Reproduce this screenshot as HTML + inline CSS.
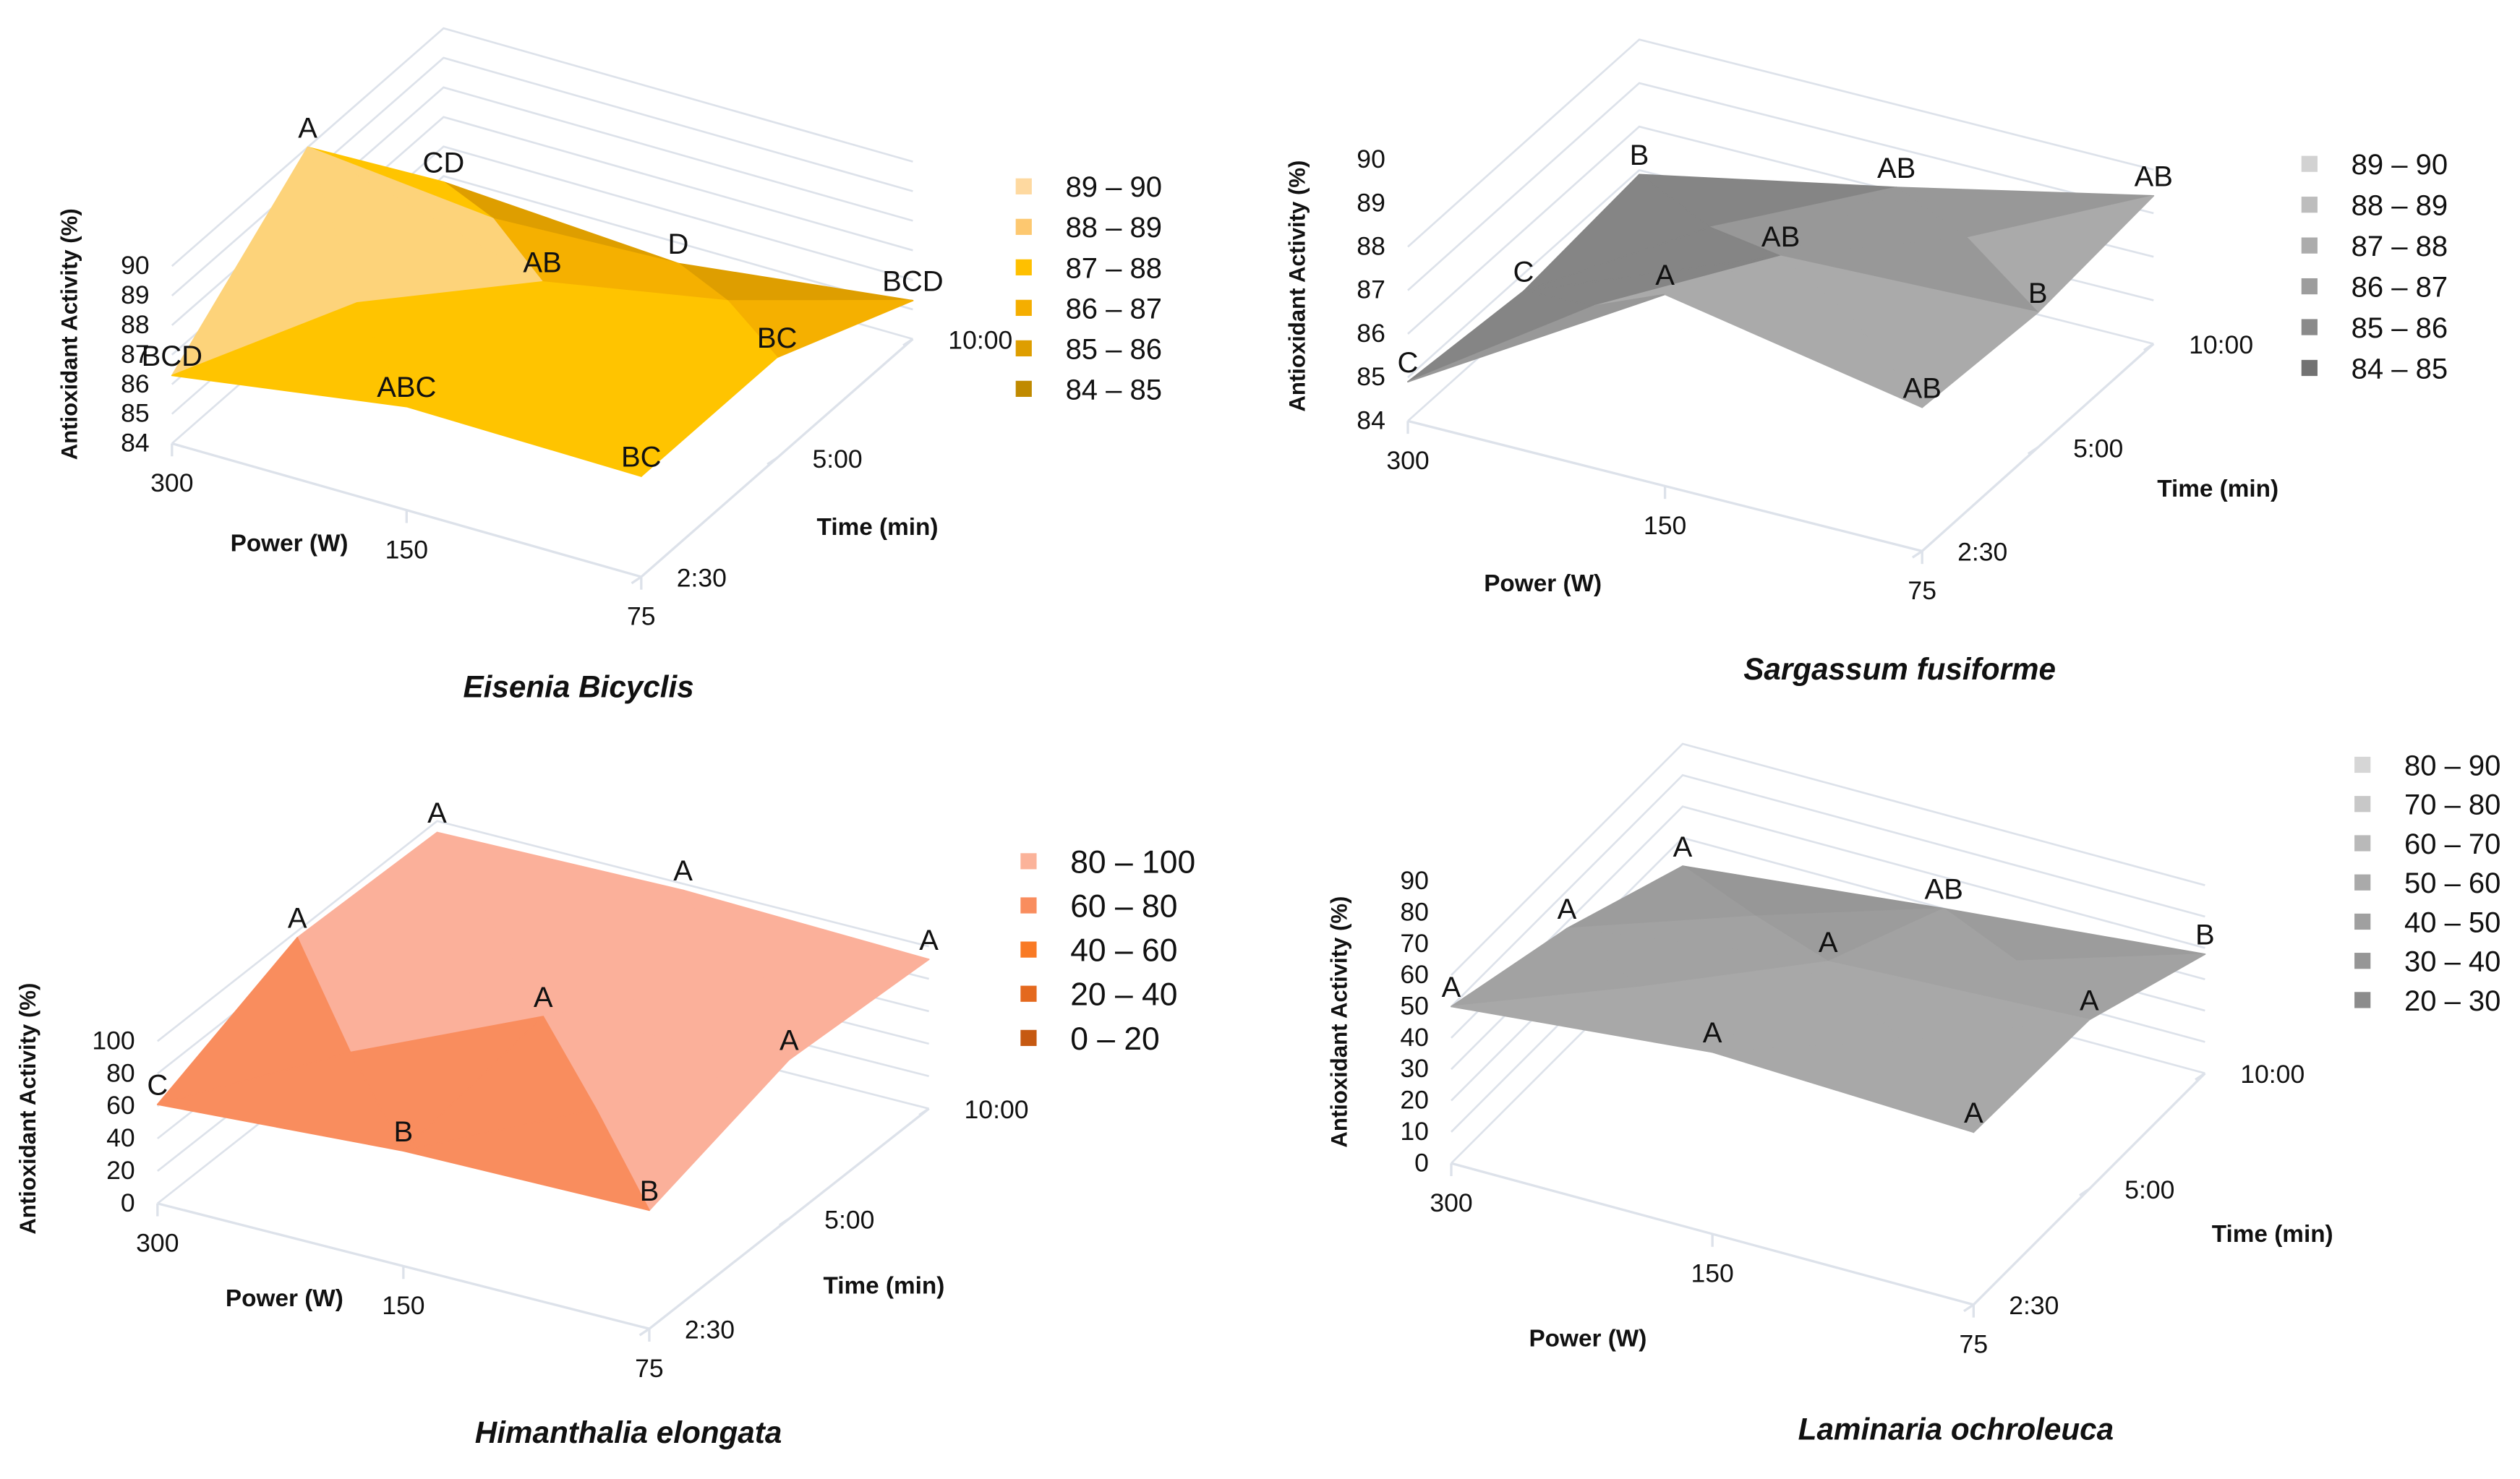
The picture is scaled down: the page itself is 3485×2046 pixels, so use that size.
<!DOCTYPE html>
<html><head><meta charset="utf-8"><style>
html,body{margin:0;padding:0;background:#fff;}
svg{display:block;}
text{font-family:"Liberation Sans",sans-serif;fill:#111;}
</style></head>
<body>
<svg id="root" xmlns="http://www.w3.org/2000/svg" width="3485" height="2046" viewBox="0 0 1568 920.5" preserveAspectRatio="none">
<rect width="1568" height="920.5" fill="#fff"/>
</svg>
<script>
// shared axis categories
const powerLabels = ['300','150','75'];
const timeLabels = ['2:30','5:00','10:00'];

// Eisenia bicyclis (rows = time 2:30,5:00,10:00; cols = power 300,150,75)
const eiseniaValues = [[86.3, 87.5, 87.4],[90.0, 87.7, 87.4],[84.8, 84.3, 85.3]];
const eiseniaLetters = [['BCD','ABC','BC'],['A','AB','BC'],['CD','D','BCD']];
const eiseniaTicks = [84,85,86,87,88,89,90];
const eiseniaLegend = ['89 – 90','88 – 89','87 – 88','86 – 87','85 – 86','84 – 85'];

// Sargassum fusiforme
const sargassumValues = [[84.9, 88.4, 87.3],[84.6, 86.9, 87.1],[84.9, 86.1, 87.4]];
const sargassumLetters = [['C','A','AB'],['C','AB','B'],['B','AB','AB']];
const sargassumTicks = [84,85,86,87,88,89,90];
const sargassumLegend = ['89 – 90','88 – 89','87 – 88','86 – 87','85 – 86','84 – 85'];

// Himanthalia elongata
const himanthaliaValues = [[61, 71, 73],[96, 86, 98],[93, 96, 92]];
const himanthaliaLetters = [['C','B','B'],['A','A','A'],['A','A','A']];
const himanthaliaTicks = [0,20,40,60,80,100];
const himanthaliaLegend = ['80 – 100','60 – 80','40 – 60','20 – 40','0 – 20'];

// Laminaria ochroleuca
const laminariaValues = [[50, 58, 55],[38, 50, 54],[21, 30, 38]];
const laminariaLetters = [['A','A','A'],['A','A','A'],['A','AB','B']];
const laminariaTicks = [0,10,20,30,40,50,60,70,80,90];
const laminariaLegend = ['80 – 90','70 – 80','60 – 70','50 – 60','40 – 50','30 – 40','20 – 30'];

const NS='http://www.w3.org/2000/svg';
const root=document.getElementById('root');
function mk(tag,attrs,parent){const e=document.createElementNS(NS,tag);for(const k in attrs)e.setAttribute(k,attrs[k]);(parent||root).appendChild(e);return e;}

const charts=[
 {key:'eisenia',name:'Eisenia Bicyclis',vals:eiseniaValues,lets:eiseniaLetters,ticks:eiseniaTicks,legend:eiseniaLegend,
  bands:[[84,85,'#c08a00'],[85,86,'#de9e00'],[86,87,'#f5b000'],[87,88,'#ffc400'],[88,89,'#fdd37a'],[89,91,'#fde3b4']],
  legendCols:['#fed9a0','#fdc870','#ffc000','#f5ae00','#de9e00','#c08a00'],
  A00:[107,276],A20:[399,359],A02:[276,128],A22:[568,211],zs:18.4,wallTop:12,
  lg:{x:637,y:116,dy:25.2,fs:18},ytitle:[48,208],pt:[180,338],tt:[546,328],titlePos:[360,427]},
 {key:'sargassum',name:'Sargassum fusiforme',vals:sargassumValues,lets:sargassumLetters,ticks:sargassumTicks,legend:sargassumLegend,
  bands:[[84,85,'#6f6f6f'],[85,86,'#858585'],[86,87,'#989898'],[87,88,'#aaaaaa'],[88,89,'#b8b8b8'],[89,91,'#cfcfcf']],
  legendCols:['#d2d2d2','#bdbdbd','#acacac','#9d9d9d','#8a8a8a','#727272'],
  A00:[876,262],A20:[1196,343],A02:[1020,133],A22:[1340,214],zs:27.1,wallTop:20,
  lg:{x:1437,y:102,dy:25.4,fs:18},ytitle:[812,178],pt:[960,363],tt:[1380,304],titlePos:[1182,416]},
 {key:'himanthalia',name:'Himanthalia elongata',vals:himanthaliaValues,lets:himanthaliaLetters,ticks:himanthaliaTicks,legend:himanthaliaLegend,
  bands:[[0,20,'#c65911'],[20,40,'#e46c1e'],[40,60,'#f77a2a'],[60,80,'#f98d5e'],[80,101,'#fbb09a']],
  legendCols:['#fbb39a','#f98d5e','#f97a24','#e4691e','#c65911'],
  A00:[98,749],A20:[404,827],A02:[272,612],A22:[578,690],zs:1.01,wallTop:480,
  lg:{x:640,y:536,dy:27.5,fs:20},ytitle:[22,690],pt:[177,808],tt:[550,800],titlePos:[391,891]},
 {key:'laminaria',name:'Laminaria ochroleuca',vals:laminariaValues,lets:laminariaLetters,ticks:laminariaTicks,legend:laminariaLegend,
  bands:[[0,30,'#979797'],[30,40,'#9c9c9c'],[40,50,'#a2a2a2'],[50,60,'#a8a8a8'],[60,70,'#b5b5b5'],[70,80,'#c4c4c4'],[80,91,'#d3d3d3']],
  legendCols:['#d6d6d6','#c8c8c8','#b9b9b9','#aaaaaa','#a0a0a0','#969696','#8c8c8c'],
  A00:[903,724],A20:[1228,812],A02:[1047,580],A22:[1372,668],zs:1.951,wallTop:462,
  lg:{x:1470,y:476,dy:24.4,fs:18},ytitle:[838,636],pt:[988,833],tt:[1414,768],titlePos:[1217,889]}
];

charts.forEach(c=>{
 const g=mk('g',{});
 
 
 const zmin=c.ticks[0];
 function floor(pi,ti){const u=pi/2,v=ti/2;
  const x=(1-u)*(1-v)*c.A00[0]+u*(1-v)*c.A20[0]+(1-u)*v*c.A02[0]+u*v*c.A22[0];
  const y=(1-u)*(1-v)*c.A00[1]+u*(1-v)*c.A20[1]+(1-u)*v*c.A02[1]+u*v*c.A22[1];return [x,y];}
 function P(pi,ti,z){const f=floor(pi,ti);return [f[0],f[1]-(z-zmin)*c.zs];}
 function col(z){for(const b of c.bands){if(z>=b[0]&&z<b[1])return b[2];}return z<c.bands[0][0]?c.bands[0][2]:c.bands[c.bands.length-1][2];}
 c.ticks.forEach(t=>{
  const a=P(0,0,t),b=P(0,2,t),d=P(2,2,t);
  if(b[1]<c.wallTop) return;
  const l=mk('polyline',{points:`${a} ${b} ${d}`,fill:'none',stroke:'#dde2ea','stroke-width':1.2},g);
  
  
 });
 const fe=mk('polyline',{points:`${floor(0,0)} ${floor(2,0)} ${floor(2,2)}`,fill:'none',stroke:'#dde2ea','stroke-width':1.5},g);
 
 
 for(let i=0;i<3;i++){const f=floor(i,0);mk('line',{x1:f[0],y1:f[1],x2:f[0],y2:f[1]+8,stroke:'#dde2ea','stroke-width':1.5},g);
  const h=floor(2,i);mk('line',{x1:h[0],y1:h[1],x2:h[0]-6,y2:h[1]+4,stroke:'#dde2ea','stroke-width':1.5},g);}
 const V=c.vals;
 for(let ti=1;ti>=0;ti--){for(let pi=0;pi<2;pi++){
  const v00=V[ti][pi],v10=V[ti][pi+1],v01=V[ti+1][pi],v11=V[ti+1][pi+1];
  const p00=P(pi,ti,v00),p10=P(pi+1,ti,v10),p01=P(pi,ti+1,v01),p11=P(pi+1,ti+1,v11);
  const vc=(v00+v10+v01+v11)/4;
  const fc=floor(pi+0.5,ti+0.5);const pc=[fc[0],fc[1]-(vc-zmin)*c.zs];
  const tris=[[p01,p11,pc,(v01+v11+vc)/3],[p00,p01,pc,(v00+v01+vc)/3],[p11,p10,pc,(v11+v10+vc)/3],[p00,p10,pc,(v00+v10+vc)/3]];
  tris.forEach(tr=>{const cc=col(tr[3]);
   const poly=mk('polygon',{points:`${tr[0]} ${tr[1]} ${tr[2]}`,fill:cc,stroke:cc,'stroke-width':0.8,'stroke-linejoin':'round'},g);
   
   
  });
 }}
 for(let ti=0;ti<3;ti++)for(let pi=0;pi<3;pi++){
  const p=P(pi,ti,V[ti][pi]);
  const t=mk('text',{x:p[0],y:p[1]-6,'font-size':18,'text-anchor':'middle'},g);
  t.textContent=c.lets[ti][pi];
  
  
 }
 c.ticks.forEach(t=>{const p=P(0,0,t);
  const e=mk('text',{x:p[0]-14,y:p[1]+5,'font-size':16,'text-anchor':'end'},g);e.textContent=t;
  
  });
 powerLabels.forEach((s,i)=>{const f=floor(i,0);
  const e=mk('text',{x:f[0],y:f[1]+30,'font-size':16,'text-anchor':'middle'},g);e.textContent=s;
  
  });
 timeLabels.forEach((s,i)=>{const f=floor(2,i);
  const e=mk('text',{x:f[0]+22,y:f[1]+6,'font-size':16,'text-anchor':'start'},g);e.textContent=s;
  
  });
 const yt=mk('text',{x:0,y:0,'font-size':14,'font-weight':'bold','text-anchor':'middle',transform:`translate(${c.ytitle[0]},${c.ytitle[1]}) rotate(-90)`},g);
 yt.textContent='Antioxidant Activity (%)';
 
 
 const pt=mk('text',{x:c.pt[0],y:c.pt[1]+5,'font-size':15,'font-weight':'bold','text-anchor':'middle'},g);
 pt.textContent='Power (W)';
 
 
 const tt=mk('text',{x:c.tt[0],y:c.tt[1]+5,'font-size':15,'font-weight':'bold','text-anchor':'middle'},g);
 tt.textContent='Time (min)';
 
 
 const tl=mk('text',{x:c.titlePos[0],y:c.titlePos[1]+7,'font-size':19,'font-weight':'bold','font-style':'italic','text-anchor':'middle'},g);
 tl.textContent=c.name;
 
 
 c.legend.forEach((s,i)=>{const y=c.lg.y+i*c.lg.dy;
  const r=mk('rect',{x:c.lg.x-5,y:y-5,width:10,height:10,fill:c.legendCols[i]},g);
  
  
  const e=mk('text',{x:c.lg.x+26,y:y+c.lg.fs*0.36,'font-size':c.lg.fs},g);e.textContent=s;
  
  });
});
</script>
</body></html>
